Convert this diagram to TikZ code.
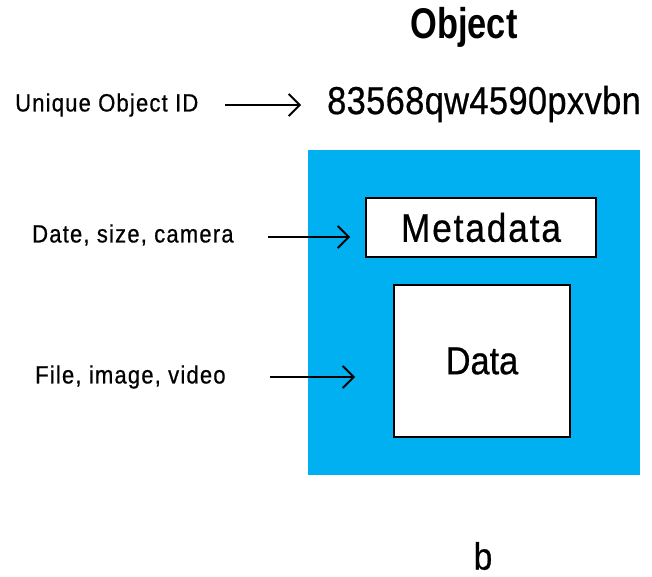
\documentclass[tikz,border=0pt]{standalone}
\usepackage{fontspec}
\setmainfont[FakeStretch=0.88, FakeBold=0.6]{Liberation Sans}
\newfontfamily\titlefont[FakeStretch=0.8]{Liberation Sans}
\usetikzlibrary{arrows.meta}
\definecolor{objblue}{RGB}{0,176,240}
\tikzset{
  lbl/.style={inner sep=0pt, anchor=west, font=\fontsize{25}{28}\selectfont\addfontfeature{LetterSpace=4.8}},
  conn/.style={line width=1.8pt, -{Straight Barb[length=11pt, width=22pt, line width=1.8pt]}},
  whitebox/.style={draw=black, line width=2pt, fill=white, inner sep=0pt}
}
\begin{document}
\begin{tikzpicture}[x=1pt, y=-1pt]
\useasboundingbox (0,0) rectangle (652,577);
\fill[objblue] (308,150) rectangle (640,475);
\node[whitebox, minimum width=230pt, minimum height=58pt, font=\fontsize{40}{44}\selectfont\addfontfeature{LetterSpace=4.7}] (meta) at (481,227.5) {Metadata};
\node[whitebox, minimum width=176pt, minimum height=152pt, font=\fontsize{39}{44}\selectfont] (data) at (482,361) {Data};
\node[font=\titlefont\fontsize{43}{46}\selectfont\bfseries, inner sep=0pt] (title) at (464,27) {Object};
\node[lbl] (idlbl) at (15,105) {Unique Object ID};
\node[inner sep=0pt, anchor=west, font=\fontsize{39}{42}\selectfont\addfontfeature{LetterSpace=1.1}] (id) at (327,104) {83568qw4590pxvbn};
\node[lbl] (datelbl) at (32,235) {Date, size, camera};
\node[lbl] (filelbl) at (35,377) {File, image, video};
\node[inner sep=0pt, font=\fontsize{38}{40}\selectfont] (b) at (483,556) {b};
\coordinate (a1s) at (225,105);
\coordinate (a1e) at (301,105);
\draw[conn] (a1s) -- (a1e);
\coordinate (a2s) at (268,237);
\coordinate (a2e) at (350,237);
\draw[conn] (a2s) -- (a2e);
\coordinate (a3s) at (270,377);
\coordinate (a3e) at (355,377);
\draw[conn] (a3s) -- (a3e);
\end{tikzpicture}
\end{document}
